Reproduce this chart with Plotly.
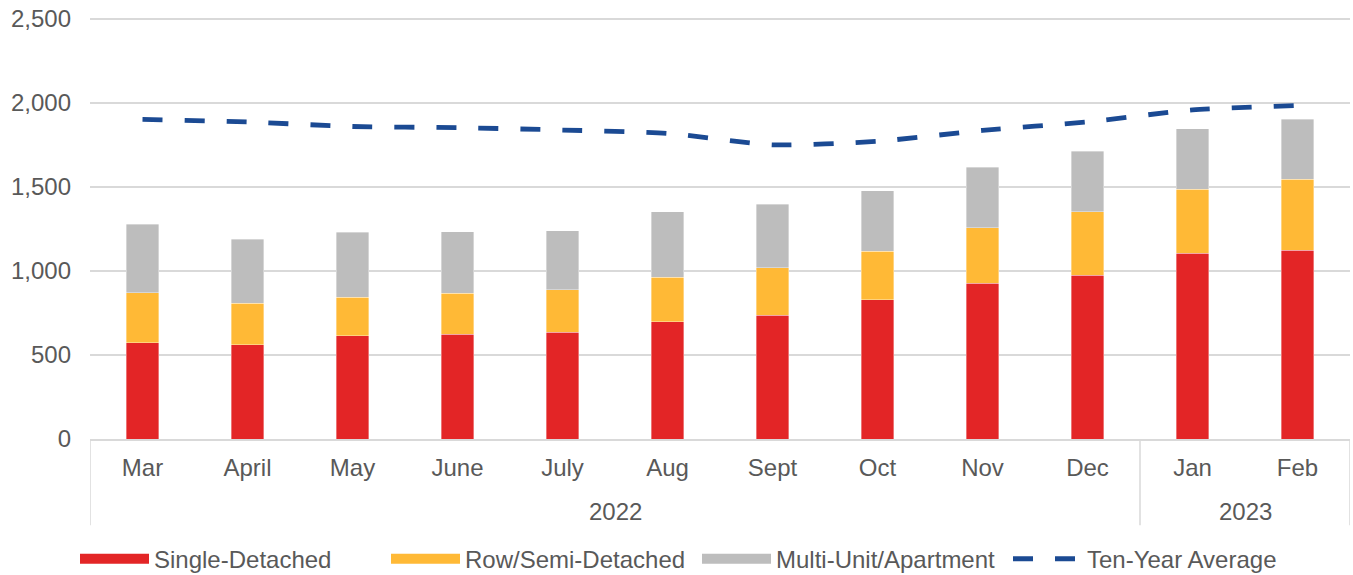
import plotly.graph_objects as go

months = ["Mar", "April", "May", "June", "July", "Aug", "Sept", "Oct", "Nov", "Dec", "Jan", "Feb"]
year_labels = ["2022", "2023"]
year_spans = [(0, 9), (10, 11)]  # first/last month index of each year group

single_detached = [572, 559, 614, 624, 636, 697, 737, 828, 925, 975, 1104, 1122]
row_semi = [298, 248, 230, 244, 250, 264, 281, 288, 331, 376, 382, 422]
multi_unit = [408, 380, 385, 363, 351, 389, 379, 360, 359, 361, 359, 358]
ten_year_avg = [1900, 1885, 1858, 1851, 1837, 1817, 1749, 1770, 1835, 1885, 1957, 1983]

y_ticks = [0, 500, 1000, 1500, 2000, 2500]
y_tick_labels = ["0", "500", "1,000", "1,500", "2,000", "2,500"]

FONT = "Liberation Sans, Arial, sans-serif"
TXT = "#595959"
GRID = "#D9D9D9"
FS = 24

series = [
    ("Single-Detached", single_detached, "#E32526"),
    ("Row/Semi-Detached", row_semi, "#FFB936"),
    ("Multi-Unit/Apartment", multi_unit, "#BDBDBD"),
]

fig = go.Figure()
for name, vals, col in series:
    fig.add_trace(go.Bar(x=months, y=vals, name=name, legendgroup=name, showlegend=False,
                         marker=dict(color=col, line=dict(color="rgba(255,255,255,0.6)", width=0.6))))
fig.add_trace(go.Scatter(x=months, y=ten_year_avg, name="Ten-Year Average", mode="lines",
                         showlegend=False, legendgroup="avg",
                         line=dict(color="#1B4A93", width=4.8, dash="20px,22px",
                                   shape="spline", smoothing=0.6)))
# legend keys (wide rectangles like the original)
for name, vals, col in series:
    fig.add_trace(go.Scatter(x=[None], y=[None], mode="lines", name=name, legendgroup=name,
                             line=dict(color=col, width=13), hoverinfo="skip"))
fig.add_trace(go.Scatter(x=[None], y=[None], mode="lines", name="Ten-Year Average",
                         legendgroup="avg", hoverinfo="skip",
                         line=dict(color="#1B4A93", width=4.8, dash="20px,22px")))

# year group labels and dividers
for lab, (a, b) in zip(year_labels, year_spans):
    fig.add_annotation(x=(a + b) / 2, y=-0.171, xref="x", yref="paper", text=lab,
                       showarrow=False, yanchor="middle", font=dict(size=FS, color=TXT))
div_positions = [-0.5] + [b + 0.5 for (a, b) in year_spans]
for xp in div_positions:
    fig.add_shape(type="line", xref="x", yref="paper", x0=xp, x1=xp, y0=0, y1=-0.204,
                  line=dict(color=GRID, width=1.5), layer="below")

fig.update_layout(
    barmode="stack",
    bargap=0.686,
    width=1353, height=575,
    margin=dict(l=90, r=3, t=15.5, b=136, autoexpand=False),
    paper_bgcolor="white", plot_bgcolor="white",
    font=dict(family=FONT, size=FS, color=TXT),
    legend=dict(orientation="h", x=-0.0119, xanchor="left", y=-0.284, yanchor="middle",
                font=dict(size=FS, color=TXT), itemwidth=69, traceorder="normal",
                entrywidth=227, entrywidthmode="pixels"),
    xaxis=dict(type="category", showline=True, linecolor=GRID, linewidth=1.5,
               range=[-0.5, 11.5], automargin=False, ticks="", ticklabelstandoff=6,
               tickfont=dict(size=FS, color=TXT)),
    yaxis=dict(range=[0, 2515], tickvals=y_ticks, ticktext=y_tick_labels, automargin=False,
               showgrid=True, gridcolor=GRID, gridwidth=1.5, zeroline=False,
               showline=False, ticks="", ticklabelstandoff=18,
               tickfont=dict(size=FS, color=TXT)),
)

fig.write_html("out.html", config={"displayModeBar": False},
               post_script="document.body.style.margin='0';")
